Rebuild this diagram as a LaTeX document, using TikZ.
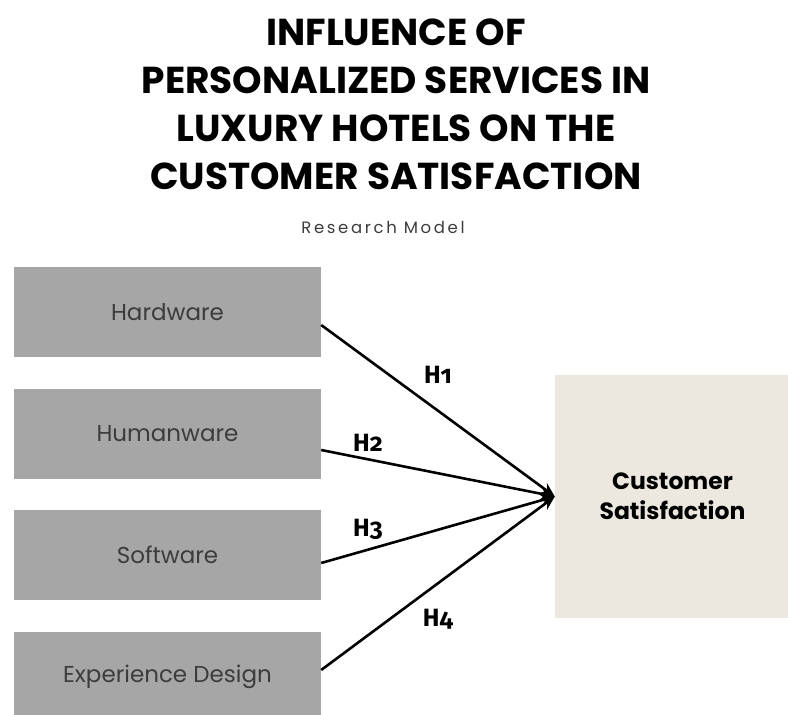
\documentclass[tikz,border=0pt]{standalone}
\usepackage{fontspec}
\setmainfont{Poppins}
\newfontfamily\labfont[Numbers=OldStyle]{Fira Sans}
\newfontfamily\spacedfont[LetterSpace=16]{Poppins}
\usetikzlibrary{arrows.meta}
\definecolor{boxgray}{HTML}{A6A6A6}
\definecolor{boxtext}{HTML}{3C3C3C}
\definecolor{beige}{HTML}{ECE8DF}
\begin{document}
\begin{tikzpicture}[x=1pt,y=-1pt]

	\tikzstyle{factor}=[rectangle,fill=boxgray,text=boxtext,minimum width=307pt,minimum height=90pt,inner sep=0pt,font=\fontsize{23}{26}\selectfont]
	\tikzstyle{hyp}=[font=\labfont\bfseries\fontsize{25}{28}\selectfont]
	\tikzstyle{path}=[line width=2.6pt,-{Stealth[length=14pt,width=12pt]}]

	\useasboundingbox (0,0) rectangle (788,715);

	\node[align=center,font=\bfseries\fontsize{37.5}{48}\selectfont] (title) at (396,104) {INFLUENCE OF\hspace{40pt}\\PERSONALIZED SERVICES IN\\LUXURY HOTELS ON THE\\CUSTOMER SATISFACTION};
	\node[text=boxtext,font=\spacedfont\fontsize{16.5}{18}\selectfont] (subtitle) at (383,227) {Research Model};

	\node[factor] (hw)  at (167.5,312) {Hardware};
	\node[factor] (huw) at (167.5,434) {Humanware};
	\node[factor] (sw)  at (167.5,555) {Software};
	\node[factor] (exd) at (167.5,677) {Experience Design};

	\node[rectangle,fill=beige,minimum width=235pt,minimum height=243pt,align=center,font=\bfseries\fontsize{23.5}{30}\selectfont] (cs) at (672.5,496.5) {Customer\\Satisfaction};

	\draw[path] ([yshift=-13pt]hw.east) -- (cs.west);
	\draw[path] ([yshift=-16pt]huw.east) -- (cs.west);
	\draw[path] ([yshift=-8pt]sw.east) -- (cs.west);
	\draw[path] ([yshift=7pt]exd.east) -- (cs.west);

	\node[hyp] (h1) at (438,375) {H1};
	\node[hyp] (h2) at (368,443) {H2};
	\node[hyp] (h3) at (368,529) {H3};
	\node[hyp] (h4) at (438,619) {H4};

\end{tikzpicture}
\end{document}
